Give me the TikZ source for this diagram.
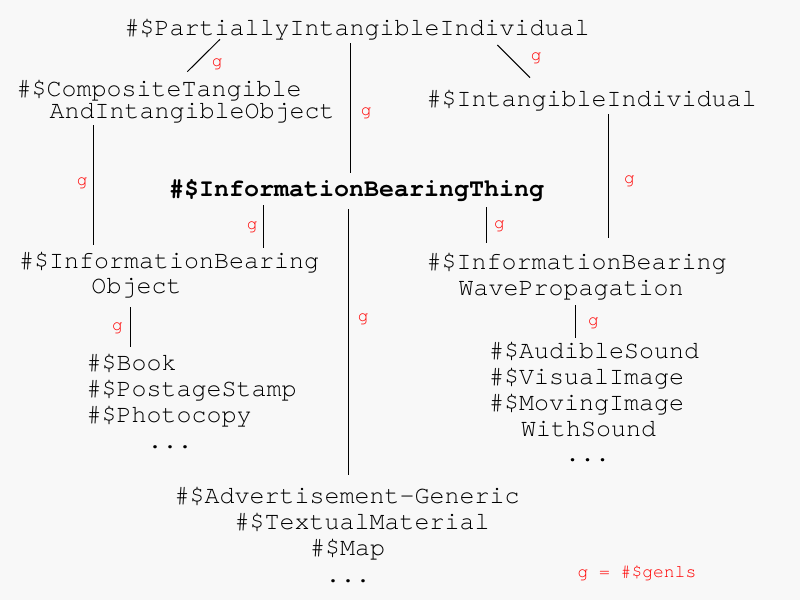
\documentclass[tikz,border=0pt]{standalone}
\usepackage{fontspec}
\newfontfamily\cur{TeX Gyre Cursor}
\definecolor{bgc}{HTML}{F8F8F8}
\newcommand{\mlines}[2]{\vtop{\baselineskip=#1\lineskiplimit=-\maxdimen\lineskip=0pt #2}}
\begin{document}
\begin{tikzpicture}[x=1pt,y=-1pt,
  lbl/.style={anchor=base west,inner sep=0pt,outer sep=0pt,font=\cur\fontsize{25}{26}\selectfont},
  boldlbl/.style={lbl,font=\cur\bfseries\fontsize{25}{26}\selectfont},
  gl/.style={inner sep=0pt,outer sep=0pt,text=red,font=\cur\fontsize{18}{18}\selectfont},
  conn/.style={draw=black,line width=1pt}]
\fill[bgc] (0,0) rectangle (800,600);
\useasboundingbox (0,0) rectangle (800,600);

% concept nodes
\node[lbl] (top) at (124.5,35) {\#\$PartiallyIntangibleIndividual};
\node[lbl] (comp) at (16.5,96.7) {\mlines{21.9pt}{\hbox{\#\$CompositeTangible}\hbox{\kern33pt AndIntangibleObject}}};
\node[lbl] (intang) at (426.5,106.7) {\#\$IntangibleIndividual};
\node[boldlbl] (ibt) at (169,196.7) {\#\$InformationBearingThing};
\node[lbl] (ibo) at (19,268.8) {\mlines{24.5pt}{\hbox{\#\$InformationBearing}\hbox{\kern72.5pt Object}}};
\node[lbl] (ibwp) at (426.5,269.5) {\mlines{25.5pt}{\hbox{\#\$InformationBearing}\hbox{\kern32pt WavePropagation}}};
\node[lbl] (books) at (86.5,370.7) {\mlines{26pt}{\hbox{\#\$Book}\hbox{\#\$PostageStamp}\hbox{\#\$Photocopy}\hbox{\kern61pt ...}}};
\node[lbl] (sounds) at (489,358.3) {\mlines{25.9pt}{\hbox{\#\$AudibleSound}\hbox{\#\$VisualImage}\hbox{\#\$MovingImage}\hbox{\kern32pt WithSound}\hbox{\kern76pt ...}}};
\node[lbl] (advert) at (174.5,503.3) {\mlines{26.3pt}{\hbox{\#\$Advertisement-Generic}\hbox{\kern60pt\#\$TextualMaterial}\hbox{\kern135.5pt\#\$Map}\hbox{\kern151pt ...}}};
\node[gl,anchor=base west,text=red] (legend) at (577.5,577.3) {g = \#\$genls};

% connector end points
\coordinate (top-a) at (220,39.3);   \coordinate (comp-a) at (187.3,71.7);
\coordinate (top-b) at (350,43.3);   \coordinate (ibt-b) at (350,172.7);
\coordinate (top-c) at (497.3,45);   \coordinate (intang-c) at (530,77.7);
\coordinate (comp-d) at (93.3,125);  \coordinate (ibo-d) at (93.3,245);
\coordinate (intang-e) at (608.3,114); \coordinate (ibwp-e) at (608.3,238.3);
\coordinate (ibt-f) at (263.3,205);  \coordinate (ibo-f) at (263.3,247.7);
\coordinate (ibt-g) at (486.7,207.3); \coordinate (ibwp-g) at (486.7,243.3);
\coordinate (ibt-h) at (348.3,209.3); \coordinate (advert-h) at (348.3,475);
\coordinate (ibo-i) at (130,307.3);  \coordinate (books-i) at (130,347.3);
\coordinate (ibwp-j) at (575.7,305); \coordinate (sounds-j) at (575.7,338.3);

\draw[conn] (top-a) -- (comp-a);
\draw[conn] (top-b) -- (ibt-b);
\draw[conn] (top-c) -- (intang-c);
\draw[conn] (comp-d) -- (ibo-d);
\draw[conn] (intang-e) -- (ibwp-e);
\draw[conn] (ibt-f) -- (ibo-f);
\draw[conn] (ibt-g) -- (ibwp-g);
\draw[conn] (ibt-h) -- (advert-h);
\draw[conn] (ibo-i) -- (books-i);
\draw[conn] (ibwp-j) -- (sounds-j);

% genls labels
\node[gl] (ga) at (217.2,64) {g};
\node[gl] (gb) at (366.2,113) {g};
\node[gl] (gc) at (536.2,58.3) {g};
\node[gl] (gd) at (82.3,183) {g};
\node[gl] (ge) at (629.5,181.3) {g};
\node[gl] (gf) at (252.3,227) {g};
\node[gl] (gg) at (499.5,226.3) {g};
\node[gl] (gh) at (363.3,319.2) {g};
\node[gl] (gi) at (117.5,328.3) {g};
\node[gl] (gj) at (593.5,323.7) {g};
\end{tikzpicture}
\end{document}
